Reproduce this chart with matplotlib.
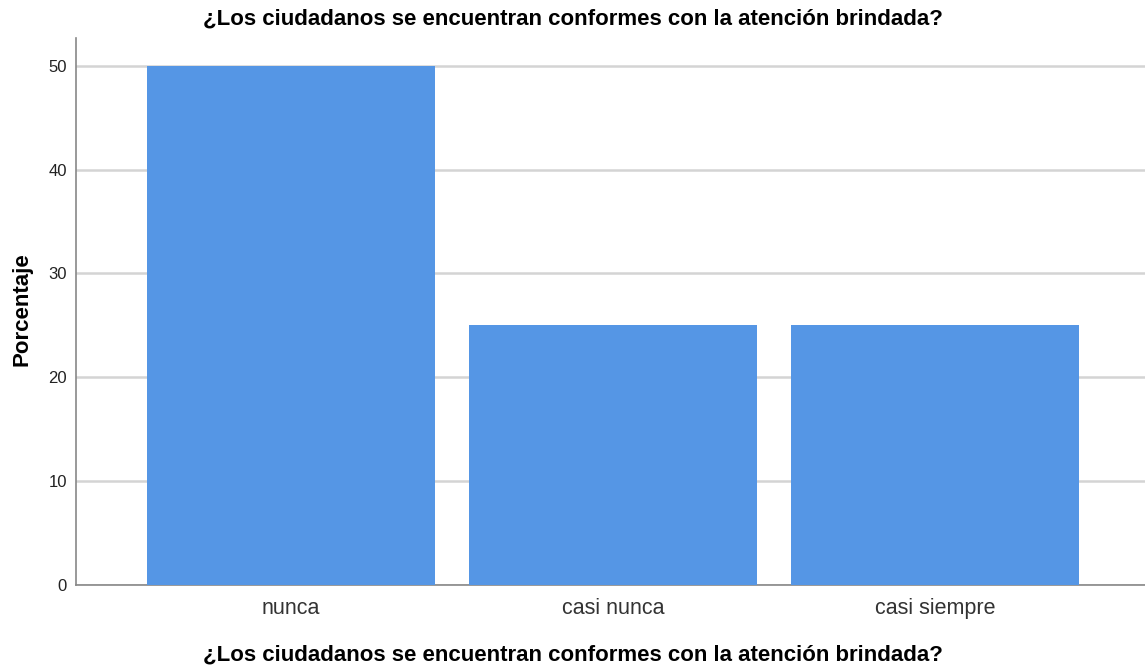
import matplotlib.pyplot as plt

# Data
categorias = ['nunca', 'casi nunca', 'casi siempre']
porcentajes = [50, 25, 25]
yticks = [0, 10, 20, 30, 40, 50]
titulo = '¿Los ciudadanos se encuentran conformes con la atención brindada?'

plt.rcParams['font.family'] = ['Liberation Sans', 'DejaVu Sans']

fig = plt.figure(figsize=(11.45, 6.65), dpi=100)
ax = fig.add_axes([0.0668, 0.121, 0.9332, 0.822])

x = range(len(categorias))
ax.bar(x, porcentajes, width=0.894, color='#5596e5', zorder=3)

ax.set_xlim(-0.666, 2.652)
ax.set_ylim(0, 52.7)
ax.set_yticks(yticks)
ax.set_xticks(list(x))
ax.set_xticklabels(categorias, fontsize=15.5, color='#333333')
ax.tick_params(axis='y', length=0, pad=7, labelsize=12, labelcolor='#222222')
ax.tick_params(axis='x', length=0, pad=10)

ax.grid(axis='y', color='#d4d4d4', linewidth=1.8, zorder=0)
for s in ['top', 'right']:
    ax.spines[s].set_visible(False)
for s in ['left', 'bottom']:
    ax.spines[s].set_color('#888888')
    ax.spines[s].set_linewidth(1.2)

fig.text(0.019, 0.535, 'Porcentaje', fontsize=16, fontweight='bold',
         rotation=90, ha='center', va='center')
fig.text(0.5, 0.015, titulo, fontsize=16, fontweight='bold',
         ha='center', va='center')
fig.text(0.5, 0.971, titulo, fontsize=16, fontweight='bold',
         ha='center', va='center')

fig.savefig('out.png', dpi=100)
